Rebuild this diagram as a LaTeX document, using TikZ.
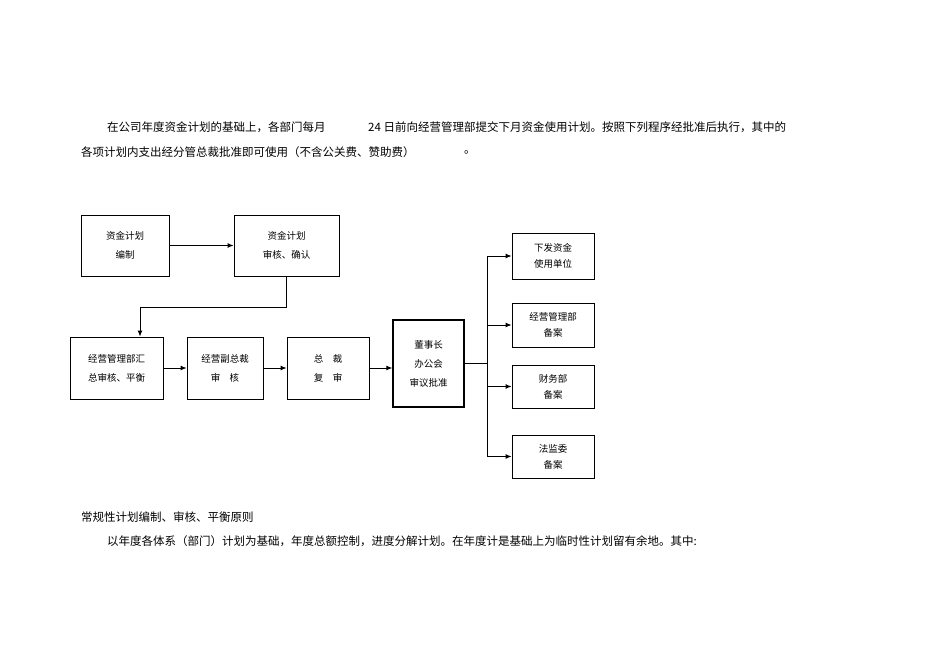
\documentclass[tikz,border=0pt]{standalone}
\usepackage{fontspec}
\setmainfont{Noto Sans CJK SC}
\usetikzlibrary{arrows.meta}
\begin{document}
\begin{tikzpicture}[x=1pt,y=-1pt,
  bx/.style={draw,line width=0.9pt,inner sep=0pt,align=center,font=\fontsize{9.5}{19}\selectfont},
  con/.style={line width=0.9pt,-{Latex[length=6pt,width=5pt]}},
  ln/.style={line width=0.6pt},
  tx/.style={anchor=west,inner sep=0pt,font=\fontsize{11.5}{14}\selectfont}]
\useasboundingbox (0,0) rectangle (950,671);
\node[tx] (t1a) at (107,127) {在公司年度资金计划的基础上，各部门每月};
\node[tx] (t1b) at (368,127) {24 日前向经营管理部提交下月资金使用计划。按照下列程序经批准后执行，其中的};
\node[tx] (t2a) at (81,152) {各项计划内支出经分管总裁批准即可使用（不含公关费、赞助费）};
\node[tx] (t2b) at (464,152) {。};
\node[tx] (t3) at (81,517) {常规性计划编制、审核、平衡原则};
\node[tx] (t4) at (107,541) {以年度各体系（部门）计划为基础，年度总额控制，进度分解计划。在年度计是基础上为临时性计划留有余地。其中:};

\node[bx,minimum width=88pt,minimum height=61pt] (A) at (125,245.5) {资金计划\\编制};
\node[bx,minimum width=105pt,minimum height=61pt] (B) at (286.5,245.5) {资金计划\\审核、确认};
\node[bx,minimum width=93pt,minimum height=62pt] (C) at (116.5,368) {经营管理部汇\\总审核、平衡};
\node[bx,minimum width=76pt,minimum height=62pt] (D) at (225,368) {经营副总裁\\审\quad 核};
\node[bx,minimum width=82pt,minimum height=62pt] (E) at (328,368) {总\quad 裁\\复\quad 审};
\node[bx,minimum width=71pt,minimum height=87pt,line width=1.3pt] (F) at (428.5,363.5) {董事长\\办公会\\审议批准};
\node[bx,minimum width=82pt,minimum height=46pt,font=\fontsize{9.5}{16}\selectfont] (G) at (553,256) {下发资金\\使用单位};
\node[bx,minimum width=82pt,minimum height=44pt,font=\fontsize{9.5}{16}\selectfont] (H) at (553,325) {经营管理部\\备案};
\node[bx,minimum width=82pt,minimum height=43pt,font=\fontsize{9.5}{16}\selectfont] (I) at (553,386.5) {财务部\\备案};
\node[bx,minimum width=82pt,minimum height=43pt,font=\fontsize{9.5}{16}\selectfont] (J) at (553,456.5) {法监委\\备案};
\coordinate (tr) at (487,363.5);

\draw[con] (A) -- (B);
\draw[con] (B.south) -- ++(0,31) -| ([xshift=23.5pt]C.north);
\draw[con] (C) -- (D);
\draw[con] (D) -- (E);
\draw[con] (E) -- (E-|F.west);
\draw[ln] (F.east|-tr) -- (tr);
\draw[ln] (tr|-G) -- (tr|-J);
\draw[con] (tr|-G) -- (G);
\draw[con] (tr|-H) -- (H);
\draw[con] (tr|-I) -- (I);
\draw[con] (tr|-J) -- (J);
\end{tikzpicture}
\end{document}
